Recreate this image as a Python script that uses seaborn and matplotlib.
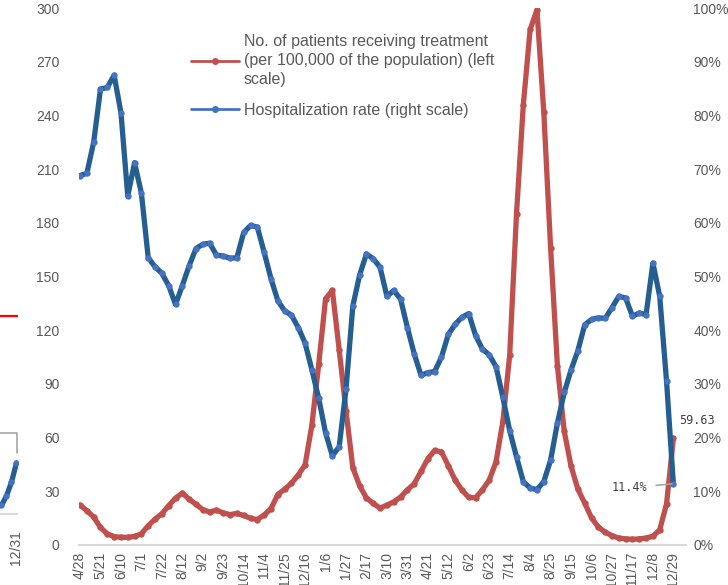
import pandas as pd
import seaborn as sns
import matplotlib.pyplot as plt
from matplotlib.lines import Line2D

# weekly series, tick label every third week
tick_labels = ['4/28', '5/21', '6/10', '7/1', '7/22', '8/12', '9/2', '9/23', '10/14', '11/4',
               '11/25', '12/16', '1/6', '1/27', '2/17', '3/10', '3/31', '4/21', '5/12', '6/2',
               '6/23', '7/14', '8/4', '8/25', '9/15', '10/6', '10/27', '11/17', '12/8', '12/29']

# patients receiving treatment per 100,000 (left scale)
patients = [22.3, 19.2, 15.6, 9.8, 6.2, 4.7, 4.3, 4.3, 4.8, 6.3,
            10.8, 14.4, 17.5, 22.0, 26.2, 29.0, 25.6, 22.7, 19.8, 18.4,
            19.5, 17.9, 17.0, 17.6, 16.5, 14.9, 14.2, 16.8, 20.3, 28.2,
            31.2, 34.5, 39.1, 44.8, 67.0, 101.0, 137.5, 142.3, 109.0, 75.0,
            43.2, 33.0, 26.3, 23.2, 20.6, 22.3, 24.1, 26.8, 30.8, 34.2,
            41.1, 48.2, 52.8, 52.0, 44.3, 36.3, 30.7, 26.6, 26.4, 30.8,
            36.2, 46.5, 69.0, 106.0, 185.0, 246.0, 288.0, 299.0, 242.0, 166.0,
            100.0, 63.5, 44.0, 31.2, 23.4, 15.2, 10.0, 7.2, 5.2, 3.9,
            3.4, 3.2, 3.4, 3.9, 4.9, 8.5, 23.0, 59.63]

# hospitalization rate in % (right scale)
hosp_rate = [68.8, 69.2, 75.0, 84.9, 85.2, 87.5, 80.5, 65.0, 71.2, 65.5,
             53.5, 51.8, 50.6, 48.3, 44.8, 48.3, 52.0, 55.2, 56.0, 56.2,
             54.0, 53.8, 53.4, 53.5, 58.2, 59.5, 59.2, 54.5, 49.6, 45.5,
             43.6, 42.8, 40.5, 37.6, 32.6, 27.3, 20.9, 16.6, 18.3, 29.0,
             44.5, 50.3, 54.2, 53.3, 51.7, 46.3, 47.4, 45.8, 40.5, 35.6,
             31.6, 32.1, 32.3, 35.0, 39.2, 41.1, 42.4, 43.1, 39.0, 36.5,
             35.4, 33.2, 27.5, 21.3, 16.4, 11.8, 10.6, 10.3, 11.8, 15.8,
             22.7, 28.4, 32.6, 36.2, 41.0, 42.0, 42.3, 42.2, 44.2, 46.3,
             46.0, 42.6, 43.2, 42.9, 52.5, 46.3, 30.5, 11.4]

# cropped edge of the neighbouring panel
nb_weeks = [-3, -2, -1, 0]
nb_rate = [1.7, 3.6, 6.3, 10.1]
nb_target = 39.1
nb_label = '12/31'

RED = '#c0504d'
BLUE_LINE = '#255e91'
BLUE_DOT = '#4472c4'
GREY = '#595959'

sns.set_theme(style='white')
plt.rcParams['font.family'] = ['Liberation Sans', 'DejaVu Sans']

df = pd.DataFrame({'week': range(len(patients)), 'patients': patients, 'rate': hosp_rate})

fig = plt.figure(figsize=(7.28, 5.85), dpi=100)
px = 6.82  # pixels per week
ax = fig.add_axes([79 / 728, 40 / 585, 89.05 * px / 728, 537 / 585])

sns.lineplot(data=df, x='week', y='patients', ax=ax, color=RED, lw=3.8,
             marker='o', markersize=4.6, markerfacecolor=RED, markeredgewidth=0)
ax.set_ylim(0, 300)
ax.set_yticks(range(0, 301, 30))
ax.set_xlim(-0.15, 88.9)
ax.set_xticks(range(0, len(patients), 3))
ax.set_xticklabels(tick_labels, rotation=90, va='top', ha='center')
ax.tick_params(axis='x', length=0, pad=5, labelsize=10, labelcolor=GREY)
ax.tick_params(axis='y', length=0, pad=14, labelsize=10, labelcolor=GREY)
ax.set_xlabel('')
ax.set_ylabel('')
for s in ['top', 'left', 'right']:
    ax.spines[s].set_visible(False)
ax.spines['bottom'].set_color('#d9d9d9')
ax.spines['bottom'].set_linewidth(1.5)

ax2 = ax.twinx()
sns.lineplot(data=df, x='week', y='rate', ax=ax2, color=BLUE_LINE, lw=3.8,
             marker='o', markersize=4.6, markerfacecolor=BLUE_DOT, markeredgewidth=0)
ax2.set_ylim(0, 100)
ax2.set_yticks(range(0, 101, 10))
ax2.set_yticklabels([f'{v}%' for v in range(0, 101, 10)])
ax2.tick_params(axis='y', length=0, pad=5, labelsize=10, labelcolor=GREY)
ax2.set_ylabel('')
for s in ax2.spines.values():
    s.set_visible(False)

# data labels at the last week
ax.annotate(f'{patients[-1]:.2f}', xy=(len(patients) - 1, patients[-1]),
            xytext=(6, 18), textcoords='offset pixels', ha='left', va='center',
            fontsize=8.5, family='DejaVu Sans Mono', color='#404040', annotation_clip=False)
ax2.annotate(f'{hosp_rate[-1]}%', xy=(len(hosp_rate) - 1, hosp_rate[-1]),
             xytext=(-26, -4), textcoords='offset pixels', ha='right', va='center',
             fontsize=8.5, family='DejaVu Sans Mono', color='#404040',
             arrowprops=dict(arrowstyle='-', color='#a6a6a6', lw=1.2, shrinkA=4, shrinkB=1))

handles = [Line2D([], [], color=RED, lw=2, marker='o', markersize=4),
           Line2D([], [], color=BLUE_DOT, lw=2, marker='o', markersize=4)]
labels = ['No. of patients receiving treatment\n(per 100,000 of the population) (left\nscale)',
          'Hospitalization rate (right scale)']
leg = ax2.legend(handles, labels, loc='upper left', bbox_to_anchor=(191 / 728, 1 - 34 / 585),
                 bbox_transform=fig.transFigure, frameon=False, fontsize=11.5,
                 handlelength=3.0, handletextpad=0.3, labelspacing=1.0,
                 borderpad=0, borderaxespad=0, labelcolor=GREY)
for t in leg.get_texts():
    t.set_linespacing(1.32)

# sliver of the neighbouring chart at the left edge
axn = fig.add_axes([0, 71 / 585, 17.5 / 728, 506 / 585])
sns.lineplot(x=nb_weeks, y=nb_rate, ax=axn, color=BLUE_LINE, lw=3.8,
             marker='o', markersize=4.6, markerfacecolor=BLUE_DOT, markeredgewidth=0)
axn.axhline(nb_target, color='#ff0000', lw=1.6)
axn.annotate('', xy=(nb_weeks[-1], nb_rate[-1]), xytext=(-4, 16.1),
             arrowprops=dict(arrowstyle='-', color='#a6a6a6', lw=1.2,
                             connectionstyle='angle,angleA=0,angleB=90', shrinkA=0, shrinkB=7),
             annotation_clip=False)
axn.set_xlim(-3.3, 0.2)
axn.set_ylim(0, 100)
axn.set_xticks([nb_weeks[-1]])
axn.set_xticklabels([nb_label], rotation=90, va='top', ha='center')
axn.tick_params(axis='x', length=0, pad=12, labelsize=10, labelcolor=GREY)
axn.set_yticks([])
axn.set_xlabel('')
axn.set_ylabel('')
for s in ['top', 'left', 'right']:
    axn.spines[s].set_visible(False)
axn.spines['bottom'].set_color('#d9d9d9')
axn.spines['bottom'].set_linewidth(1.5)

fig.savefig('out.png', dpi=100)
